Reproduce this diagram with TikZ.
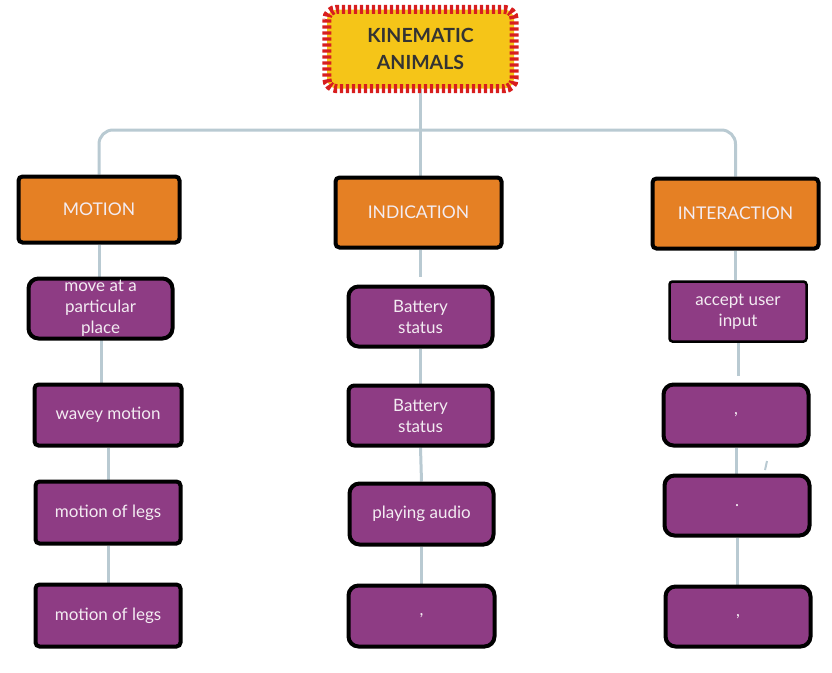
\documentclass[tikz,border=0pt]{standalone}
\usepackage{fontspec}
\setmainfont{Lato}
\usetikzlibrary{backgrounds,calc}
\definecolor{catorange}{HTML}{E58024}
\definecolor{leafpurple}{HTML}{8E3C84}
\definecolor{linkgray}{HTML}{B9CAD2}
\definecolor{titleyellow}{HTML}{F5C518}
\definecolor{titlered}{HTML}{D81E1E}
\definecolor{lighttext}{HTML}{F3ECF2}
\tikzset{
  cat/.style={draw=black, fill=catorange, line width=4pt, rounded corners=4pt,
    text=lighttext, font=\fontsize{17.5}{21}\selectfont, align=center, inner sep=0pt},
  leaf/.style={draw=black, fill=leafpurple, line width=4pt, rounded corners=10pt,
    text=lighttext, font=\fontsize{17}{21}\selectfont, align=center, inner sep=0pt},
  link/.style={draw=linkgray, line width=3pt},
}
\begin{document}
\begin{tikzpicture}[x=1pt,y=-1pt]
\useasboundingbox (0,0) rectangle (832,672);
% title
\node[fill=titleyellow, rounded corners=10pt, minimum width=187pt, minimum height=79pt,
  text=black!80, font=\fontsize{19.5}{27}\selectfont\bfseries, align=center] (title) at (420.5,49) {KINEMATIC\\ANIMALS};
\draw[titlered, line width=9pt, dash pattern=on 3.4pt off 2.6pt, rounded corners=10pt]
  (title.north west) rectangle (title.south east);
% categories
\node[cat, minimum width=161pt, minimum height=66pt] (motion) at (99,209.5) {MOTION};
\node[cat, minimum width=166pt, minimum height=70pt] (indication) at (418.5,212.5) {INDICATION};
\node[cat, minimum width=166pt, minimum height=70pt] (interaction) at (735.5,213.5) {INTERACTION};
% column 1
\node[leaf, minimum width=144pt, minimum height=60pt] (m1) at (100.5,308.5) {move at a\\particular\\place};
\node[leaf, rounded corners=4pt, minimum width=147pt, minimum height=61pt] (m2) at (108,415) {wavey motion};
\node[leaf, rounded corners=4pt, minimum width=145pt, minimum height=62pt] (m3) at (108,512.5) {motion of legs};
\node[leaf, rounded corners=4pt, minimum width=145pt, minimum height=62pt] (m4) at (108,615.5) {motion of legs};
% column 2
\node[leaf, minimum width=144pt, minimum height=60pt] (i1) at (420.5,316.5) {Battery\\status};
\node[leaf, rounded corners=6pt, minimum width=144pt, minimum height=60pt] (i2) at (420.5,415.5) {Battery\\status};
\node[leaf, minimum width=144pt, minimum height=61pt] (i3) at (421.5,514) {playing audio};
\node[leaf, minimum width=146pt, minimum height=61pt] (i4) at (421.5,616) {,};
% column 3
\node[leaf, line width=2.5pt, rounded corners=3pt, minimum width=137pt, minimum height=60pt] (n1) at (738,311.5) {accept user\\input};
\node[leaf, minimum width=145pt, minimum height=61pt] (n2) at (736,415) {,};
\node[leaf, minimum width=145pt, minimum height=60pt] (n3) at (737,505.5) {.};
\node[leaf, minimum width=145pt, minimum height=60pt] (n4) at (738,616.5) {,};
% connectors
\coordinate (hub) at (420.5,130);
\coordinate (stubA) at (765,470);
\coordinate (stubB) at (767,461);
\coordinate (m1b) at (101.5,338);
\begin{scope}[on background layer]
\draw[link] (title.south) -- (title.south |- indication.north);
\draw[link, rounded corners=14pt] (motion.north) |- (hub) -| (interaction.north);
\draw[link] (motion.south) -- (motion.south |- m1.north);
\draw[link] (m1b) -- (m1b |- m2.north);
\draw[link] (m2.south) -- (m3.north);
\draw[link] (m3.south) -- (m4.north);
\draw[link] ($(title.south |- indication.south)$) -- ($(title.south |- i1.north)+(0,-8)$);
\draw[link] (i1.south) -- (i2.north);
\draw[link] (i2.south) -- (i3.north);
\draw[link] (i3.south) -- (i4.north);
\draw[link] (interaction.south) -- (interaction.south |- n1.north);
\draw[link] (n1.south) -- ($(n1.south |- n2.north)+(0,-7)$);
\draw[link] (n2.south) -- (n2.south |- n3.north);
\draw[link] (n3.south) -- (n3.south |- n4.north);
\draw[link, line width=2pt] (stubA) -- (stubB);
\end{scope}
\end{tikzpicture}
\end{document}
